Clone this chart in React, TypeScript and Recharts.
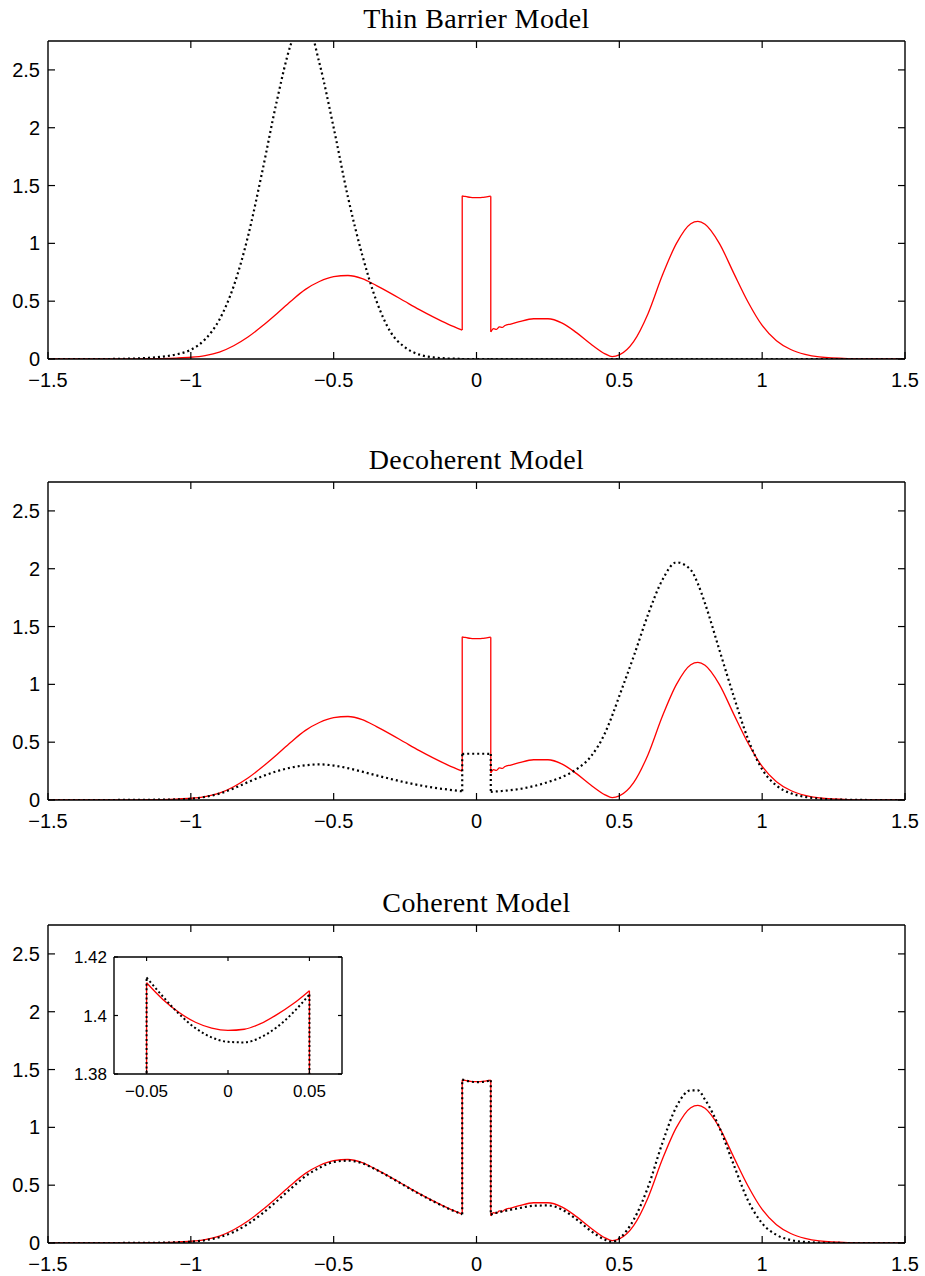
import React from "react";
import { LineChart, Line, XAxis, YAxis } from "recharts";

// sample positions: left of the barrier, inside it, right of it
const xLeft = [-1.5, -1.4, -1.3, -1.2, -1.15, -1.1, -1.05, -1.0, -0.95, -0.9, -0.85, -0.8, -0.75, -0.7, -0.65, -0.6, -0.55, -0.5, -0.45, -0.4, -0.35, -0.3, -0.25, -0.2, -0.15, -0.1, -0.05];
const xBarrier = [-0.05, -0.04, -0.03, -0.02, -0.01, 0, 0.01, 0.02, 0.03, 0.04, 0.05];
const xRight = [0.05, 0.06, 0.07, 0.08, 0.09, 0.1, 0.12, 0.15, 0.2, 0.25, 0.3, 0.35, 0.4, 0.45, 0.475, 0.5, 0.55, 0.6, 0.65, 0.7, 0.75, 0.775, 0.8, 0.85, 0.9, 0.95, 1.0, 1.05, 1.1, 1.15, 1.2, 1.3, 1.4, 1.5];

// exact solution (red, same in every panel)
const redLeft = [0, 0, 0, 0.001, 0.002, 0.004, 0.008, 0.015, 0.03, 0.06, 0.115, 0.19, 0.285, 0.39, 0.5, 0.6, 0.67, 0.712, 0.722, 0.695, 0.635, 0.568, 0.497, 0.427, 0.362, 0.302, 0.25];
const redBarrier = [1.4112, 1.4055, 1.401, 1.3977, 1.3957, 1.3949, 1.3953, 1.3972, 1.4003, 1.404, 1.4085];
const redRight = [0.235, 0.262, 0.256, 0.277, 0.273, 0.29, 0.302, 0.323, 0.348, 0.348, 0.31, 0.228, 0.13, 0.045, 0.02, 0.035, 0.15, 0.39, 0.72, 1.0, 1.17, 1.19, 1.165, 1.0, 0.745, 0.495, 0.29, 0.158, 0.082, 0.04, 0.018, 0.004, 0.001, 0];

// thin barrier model (black dotted)
const thinLeft = [0, 0, 0, 0.004, 0.01, 0.02, 0.04, 0.08, 0.17, 0.34, 0.63, 1.06, 1.62, 2.22, 2.72, 2.95, 2.56, 2.0, 1.4, 0.9, 0.5, 0.23, 0.1, 0.038, 0.014, 0.005, 0.002];
const thinBarrier = [0, 0, 0, 0, 0, 0, 0, 0, 0, 0, 0];
const thinRight = [0, 0, 0, 0, 0, 0, 0, 0, 0, 0, 0, 0, 0, 0, 0, 0, 0, 0, 0, 0, 0, 0, 0, 0, 0, 0, 0, 0, 0, 0, 0, 0, 0, 0];

// decoherent model
const decLeft = [0, 0, 0, 0.001, 0.002, 0.003, 0.005, 0.01, 0.027, 0.055, 0.1, 0.155, 0.205, 0.248, 0.28, 0.3, 0.308, 0.298, 0.275, 0.245, 0.213, 0.182, 0.153, 0.128, 0.107, 0.09, 0.075];
const decBarrier = [0.398, 0.399, 0.4, 0.4, 0.4, 0.4, 0.4, 0.4, 0.4, 0.399, 0.398];
const decRight = [0.07, 0.072, 0.074, 0.076, 0.078, 0.08, 0.085, 0.095, 0.12, 0.155, 0.2, 0.265, 0.375, 0.58, 0.73, 0.9, 1.24, 1.6, 1.9, 2.055, 1.99, 1.87, 1.7, 1.3, 0.9, 0.53, 0.265, 0.125, 0.058, 0.027, 0.012, 0.002, 0, 0];

// coherent model
const cohLeft = [0, 0, 0, 0.0005, 0.001, 0.003, 0.006, 0.011, 0.024, 0.05, 0.095, 0.165, 0.255, 0.36, 0.47, 0.575, 0.65, 0.7, 0.712, 0.69, 0.632, 0.565, 0.494, 0.424, 0.359, 0.299, 0.248];
const cohBarrier = [1.413, 1.4065, 1.4005, 1.3957, 1.3925, 1.391, 1.3908, 1.3925, 1.396, 1.401, 1.4072];
const cohRight = [0.245, 0.255, 0.262, 0.268, 0.273, 0.278, 0.288, 0.302, 0.322, 0.325, 0.288, 0.205, 0.105, 0.028, 0.01, 0.04, 0.2, 0.48, 0.86, 1.18, 1.32, 1.32, 1.24, 1.0, 0.68, 0.37, 0.17, 0.07, 0.026, 0.009, 0.003, 0, 0, 0];

const titles = ["Thin Barrier Model", "Decoherent Model", "Coherent Model"];
const xTicks = [-1.5, -1, -0.5, 0, 0.5, 1, 1.5];
const xTopTicks = [-1, -0.5, 0, 0.5, 1];
const yTicks = [0, 0.5, 1, 1.5, 2, 2.5];
const insetXTicks = [-0.05, 0, 0.05];
const insetYTicks = [1.38, 1.4, 1.42];

const panelTops = [0, 441, 884];

const sans = "'Liberation Sans', Arial, Helvetica, sans-serif";
const axisLine = { stroke: "#000", strokeWidth: 1.4 };
const tickLine = { stroke: "#000", strokeWidth: 1.2 };
const noLabel = () => null;

const fmt = (v: number) => (v < 0 ? "\u2212" + Math.abs(v) : String(v));

const pts = (xs: number[], ys: number[]) => xs.map((x, i) => ({ x, y: ys[i] }));

const redStyle = { stroke: "#ff0000", strokeWidth: 1.3 };
const blackStyle = { stroke: "#000", strokeWidth: 2.2, strokeDasharray: "2 3" };

// one curve = three smooth pieces joined by vertical jumps at the barrier edges
function curve(id: string, left: number[], bar: number[], right: number[], style: any) {
  const l = pts(xLeft, left);
  const b = pts(xBarrier, bar);
  const r = pts(xRight, right);
  const parts = [
    { k: "l", data: l, type: "monotone" },
    { k: "j1", data: [l[l.length - 1], b[0]], type: "linear" },
    { k: "b", data: b, type: "monotone" },
    { k: "j2", data: [b[b.length - 1], r[0]], type: "linear" },
    { k: "r", data: r, type: "monotone" },
  ];
  return parts.map((p) => (
    <Line
      key={id + p.k}
      data={p.data}
      dataKey="y"
      type={p.type as any}
      dot={false}
      activeDot={false}
      isAnimationActive={false}
      {...style}
    />
  ));
}

function Panel({ top, black }: { top: number; black: number[][] }) {
  return (
    <div style={{ position: "absolute", left: 0, top }}>
      <LineChart width={925} height={400} margin={{ top: 0, right: 0, bottom: 0, left: 0 }}>
        <XAxis
          type="number"
          dataKey="x"
          domain={[-1.5, 1.5]}
          allowDataOverflow
          ticks={xTicks}
          interval={0}
          height={41}
          tickSize={-7}
          tickMargin={21}
          tickFormatter={fmt}
          tick={{ fill: "#000", fontSize: 20, fontFamily: sans }}
          axisLine={axisLine}
          tickLine={tickLine}
        />
        <XAxis
          xAxisId="top"
          orientation="top"
          type="number"
          dataKey="x"
          domain={[-1.5, 1.5]}
          allowDataOverflow
          ticks={xTopTicks}
          interval={0}
          height={41}
          tickSize={-7}
          tick={noLabel}
          axisLine={axisLine}
          tickLine={tickLine}
        />
        <YAxis
          type="number"
          domain={[0, 2.75]}
          allowDataOverflow
          ticks={yTicks}
          interval={0}
          width={48}
          tickSize={-7}
          tickMargin={15}
          tick={{ fill: "#000", fontSize: 20, fontFamily: sans }}
          axisLine={axisLine}
          tickLine={tickLine}
        />
        <YAxis
          yAxisId="right"
          orientation="right"
          type="number"
          domain={[0, 2.75]}
          allowDataOverflow
          ticks={yTicks}
          interval={0}
          width={20}
          tickSize={-7}
          tick={noLabel}
          axisLine={axisLine}
          tickLine={tickLine}
        />
        {curve("red", redLeft, redBarrier, redRight, redStyle)}
        {curve("blk", black[0], black[1], black[2], blackStyle)}
      </LineChart>
    </div>
  );
}

function Inset() {
  return (
    <>
      <div style={{ position: "absolute", left: 114, top: 957, width: 228, height: 112, background: "#fff" }} />
      <div style={{ position: "absolute", left: 59, top: 942 }}>
        <LineChart width={288} height={172} margin={{ top: 0, right: 0, bottom: 0, left: 0 }}>
          <XAxis
            type="number"
            dataKey="x"
            domain={[-0.07, 0.07]}
            allowDataOverflow
            ticks={insetXTicks}
            interval={0}
            height={40}
            tickSize={-4}
            tickMargin={15}
            tickFormatter={fmt}
            tick={{ fill: "#000", fontSize: 17, fontFamily: sans }}
            axisLine={axisLine}
            tickLine={tickLine}
          />
          <XAxis
            xAxisId="top"
            orientation="top"
            type="number"
            dataKey="x"
            domain={[-0.07, 0.07]}
            allowDataOverflow
            ticks={insetXTicks}
            interval={0}
            height={15}
            tickSize={-4}
            tick={noLabel}
            axisLine={axisLine}
            tickLine={tickLine}
          />
          <YAxis
            type="number"
            domain={[1.38, 1.42]}
            allowDataOverflow
            ticks={insetYTicks}
            interval={0}
            width={55}
            tickSize={-4}
            tickMargin={11}
            tick={{ fill: "#000", fontSize: 17, fontFamily: sans }}
            axisLine={axisLine}
            tickLine={tickLine}
          />
          <YAxis
            yAxisId="right"
            orientation="right"
            type="number"
            domain={[1.38, 1.42]}
            allowDataOverflow
            ticks={insetYTicks}
            interval={0}
            width={5}
            tickSize={-4}
            tick={noLabel}
            axisLine={axisLine}
            tickLine={tickLine}
          />
          {curve("ired", redLeft, redBarrier, redRight, redStyle)}
          {curve("iblk", cohLeft, cohBarrier, cohRight, { stroke: "#000", strokeWidth: 2, strokeDasharray: "2 2.6" })}
        </LineChart>
      </div>
    </>
  );
}

export default function App() {
  const blacks = [
    [thinLeft, thinBarrier, thinRight],
    [decLeft, decBarrier, decRight],
    [cohLeft, cohBarrier, cohRight],
  ];
  return (
    <div style={{ position: "absolute", left: 0, top: 0, width: 925, height: 1276, background: "#fff" }}>
      <svg width={925} height={1276} style={{ position: "absolute", left: 0, top: 0 }}>
        {titles.map((t, i) => (
          <text
            key={t}
            x={476.5}
            y={panelTops[i] + 27.8}
            textAnchor="middle"
            fontFamily="'Liberation Serif', 'Times New Roman', serif"
            fontSize={28}
            letterSpacing={0.4}
            fill="#000"
          >
            {t}
          </text>
        ))}
      </svg>
      {panelTops.map((top, i) => (
        <Panel key={i} top={top} black={blacks[i]} />
      ))}
      <Inset />
    </div>
  );
}
